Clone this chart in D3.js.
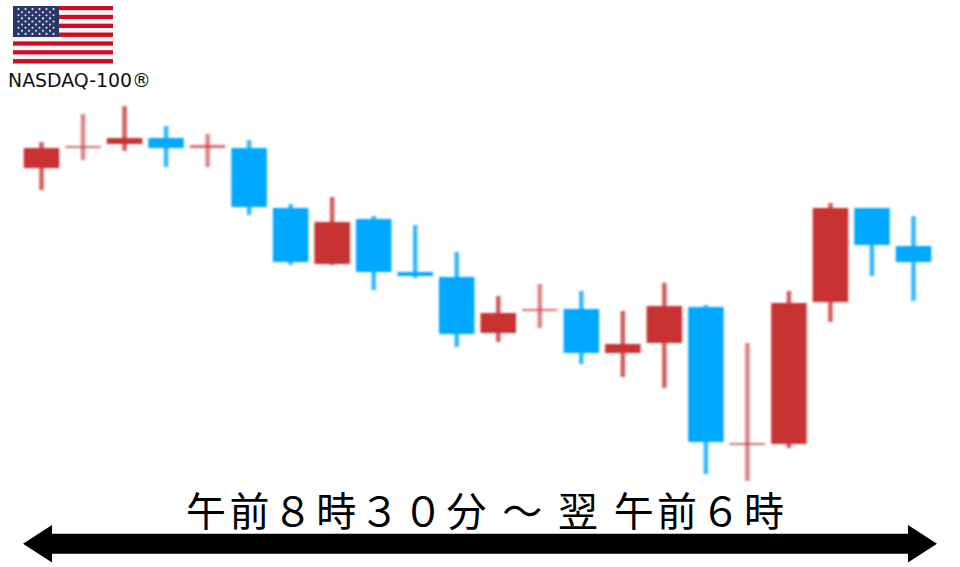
<!DOCTYPE html>
<html><head><meta charset="utf-8">
<script src="https://cdn.jsdelivr.net/npm/d3@7/dist/d3.min.js"></script>
<style>html,body{margin:0;padding:0;background:#fff}svg{display:block}</style>
</head><body><svg id="c" width="960" height="567"></svg>
<script>
// Price-like values (arbitrary units: higher = up)
const sessions = d3.range(1, 23);
const directions = ["d","d","d","u","d","u","u","d","u","u","u","d","d","u","d","d","u","d","d","d","u","u"];
const bodyTop =    [352,354,362,362,355,352,292,278,281,228,223,187,191,191,156,194,193,57,197,292,292,254];
const bodyBottom = [332,352,356,352,352,293,238,236,228,224,166,167,189,147,147,157,58,55,56,198,255,238];
const wickHigh =   [358,386,394,374,366,360,296,303,284,275,248,204,216,209,189,217,195,157,209,297,292,284];
const wickLow =    [310,340,349,333,333,285,235,235,210,222,153,158,172,136,123,112,26,19,52,178,224,199];
const title = "午前８時３０分 ～ 翌 午前６時";
const flagStripes = d3.range(13);
const starRows = d3.range(9);

const svg = d3.select("#c");
const defs = svg.append("defs");
defs.append("filter").attr("id","soft").attr("x","-20%").attr("y","-20%").attr("width","140%").attr("height","140%")
  .append("feGaussianBlur").attr("stdDeviation",0.9);
defs.append("filter").attr("id","softFlag").attr("x","-5%").attr("y","-5%").attr("width","110%").attr("height","110%")
  .append("feGaussianBlur").attr("stdDeviation",0.4);

const x = d3.scaleLinear().domain([1,22]).range([41.5,913.5]);
const y = d3.scaleLinear().domain([0,400]).range([500,100]);
const colour = d => d === "u" ? "#00a8ff" : "#c83232";
const chart = svg.append("g").attr("filter","url(#soft)");
const bw = 35.5;

const rows = sessions.map((s,i)=>({s,dir:directions[i],top:bodyTop[i],bot:bodyBottom[i],hi:wickHigh[i],lo:wickLow[i]}));
chart.selectAll("line.wick").data(rows).join("line").attr("class","wick")
  .attr("x1",d=>x(d.s)).attr("x2",d=>x(d.s))
  .attr("y1",d=>y(d.hi)).attr("y2",d=>y(d.lo))
  .attr("stroke",d=>colour(d.dir)).attr("stroke-width",4.5)
  .attr("stroke-opacity",d=>(d.top-d.bot)<4?0.6:0.8);
chart.selectAll("rect.body").data(rows).join("rect").attr("class","body")
  .attr("x",d=>x(d.s)-bw/2).attr("width",bw)
  .attr("y",d=>y(d.top)).attr("height",d=>y(d.bot)-y(d.top))
  .attr("fill",d=>colour(d.dir))
  .attr("fill-opacity",d=>(d.top-d.bot)<4?0.7:1);

// Flag
const flag = svg.append("g").attr("filter","url(#softFlag)");
const fx = d3.scaleLinear().domain([0,1]).range([13,113]);
const fy = d3.scaleBand().domain(flagStripes).range([6,63.5]);
flag.selectAll("rect.s").data(flagStripes).join("rect").attr("class","s")
  .attr("x",fx(0)).attr("width",fx(1)-fx(0))
  .attr("y",d=>fy(d)).attr("height",fy.bandwidth())
  .attr("fill",d=>d%2?"#f4f4f6":"#cc0a22");
flag.append("rect").attr("x",fx(0)).attr("y",fy(0)).attr("width",fx(0.46)-fx(0))
  .attr("height",fy(7)-fy(0)).attr("fill","#2b3768");
const stars = starRows.flatMap(r=>d3.range(r%2?5:6).map(c=>({r,c})));
flag.selectAll("circle").data(stars).join("circle")
  .attr("cx",d=>fx(0.02)+ (d.c*2+(d.r%2?2:1))*3.5)
  .attr("cy",d=>fy(0)+ (d.r+1)*3.1)
  .attr("r",1.05).attr("fill","#e4e6ef");

svg.append("text").attr("x",8).attr("y",87)
  .attr("font-family","'DejaVu Sans',sans-serif").attr("font-size",18.9).attr("fill","#111")
  .text("NASDAQ-100®");

svg.append("text").attr("x",186).attr("y",526)
  .attr("font-family","'Noto Sans CJK JP',sans-serif").attr("font-size",40).attr("letter-spacing",3.4).attr("fill","#000")
  .text(title);

// Double arrow
const ax = d3.scaleLinear().domain([0,1]).range([23,937]);
const ay = d3.scaleLinear().domain([-1,1]).range([525,562.5]);
const shaft = 0.535, head = 29;
const pts = [[ax(0),ay(0)],[ax(0)+head,ay(-1)],[ax(0)+head,ay(-shaft)],[ax(1)-head,ay(-shaft)],[ax(1)-head,ay(-1)],
  [ax(1),ay(0)],[ax(1)-head,ay(1)],[ax(1)-head,ay(shaft)],[ax(0)+head,ay(shaft)],[ax(0)+head,ay(1)]];
svg.append("path").attr("d",d3.line()(pts)+"Z").attr("fill","#000");
</script></body></html>
